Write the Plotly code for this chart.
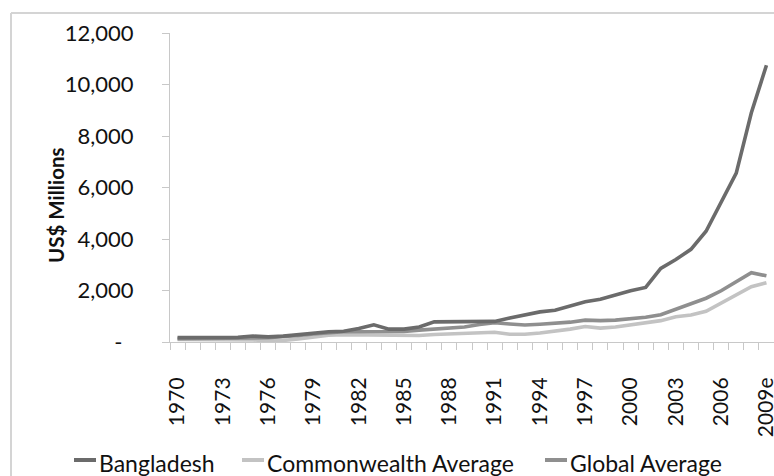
import plotly.graph_objects as go

# Years on the category axis (last year is an estimate)
years = [str(y) for y in range(1970, 2009)] + ["2009e"]
tick_labels = [y if i % 3 == 0 else "" for i, y in enumerate(years)]

# Values in US$ millions
bangladesh = [170, 170, 180, 190, 180, 230, 200, 230, 290, 340,
              400, 420, 520, 670, 500, 500, 580, 780, 790, 790,
              790, 800, 930, 1050, 1170, 1230, 1380, 1560, 1660, 1840,
              1990, 2120, 2860, 3200, 3600, 4300, 5400, 6560, 8900, 10750]
commonwealth_avg = [100, 100, 100, 100, 90, 80, 50, 60, 120, 200,
                    260, 280, 280, 280, 260, 250, 250, 290, 310, 330,
                    360, 380, 300, 300, 350, 410, 500, 600, 540, 580,
                    660, 730, 830, 980, 1050, 1190, 1500, 1830, 2150, 2300]
global_avg = [130, 130, 140, 140, 140, 160, 170, 200, 250, 310,
              370, 400, 400, 410, 400, 410, 460, 500, 530, 580,
              680, 750, 700, 660, 690, 720, 770, 850, 830, 850,
              890, 960, 1060, 1270, 1480, 1700, 1990, 2340, 2690, 2570]

y_ticks = [0, 2000, 4000, 6000, 8000, 10000, 12000]
y_tick_text = ["-\u00a0\u00a0", "2,000", "4,000", "6,000", "8,000", "10,000", "12,000"]

series = [
    ("Bangladesh", bangladesh, "#6b6b6b"),
    ("Commonwealth Average", commonwealth_avg, "#c3c3c3"),
    ("Global Average", global_avg, "#8f8f8f"),
]

W, H = 774, 476
L, R, T, B = 170, 0, 33, 134
PW, PH = W - L - R, H - T - B


def px(x):
    return (x - L) / PW


def py(y):
    return (H - B - y) / PH


fig = go.Figure()
# draw lighter series first so the darker ones sit on top
for name, vals, color in [series[1], series[2], series[0]]:
    fig.add_trace(go.Scatter(x=years, y=vals, mode="lines", name=name,
                             line=dict(color=color, width=3.6),
                             showlegend=False, cliponaxis=False))

text_color = "#111111"
fig.update_layout(
    width=W, height=H,
    margin=dict(l=L, r=R, t=T, b=B, autoexpand=False),
    paper_bgcolor="white", plot_bgcolor="white",
    xaxis=dict(type="category", tickmode="array", tickvals=years, ticktext=tick_labels,
               tickangle=-90, tickson="boundaries", ticks="outside", ticklen=7,
               tickcolor="#c8c8c8", showline=True, linecolor="#c8c8c8", linewidth=1,
               showgrid=False, zeroline=False, automargin=False,
               tickfont=dict(family="Lato, sans-serif", size=21, color=text_color),
               ticklabelstandoff=26, range=[-0.5, 39.5]),
    yaxis=dict(range=[0, 12000], tickmode="array", tickvals=y_ticks, ticktext=y_tick_text,
               ticks="outside", ticklen=7, tickcolor="#c8c8c8", showline=True,
               linecolor="#c8c8c8", linewidth=1, showgrid=False, zeroline=False,
               automargin=False,
               tickfont=dict(family="Lato, sans-serif", size=22, color=text_color),
               ticklabelstandoff=24),
)

# y-axis title
fig.add_annotation(x=px(42), y=py(205), xref="paper", yref="paper", text="<b>US$ Millions</b>",
                   textangle=-90, showarrow=False,
                   font=dict(family="Lato, sans-serif", size=20.5, color=text_color))

# chart frame
frame = "#d4d4d4"
fig.add_shape(type="line", xref="paper", yref="paper", x0=px(11), x1=px(774), y0=py(13), y1=py(13),
              line=dict(color=frame, width=2))
fig.add_shape(type="line", xref="paper", yref="paper", x0=px(11), x1=px(11), y0=py(13), y1=py(480),
              line=dict(color=frame, width=2))

# legend
legend_x = [74, 242, 545]
for (name, _, color), lx in zip(series, legend_x):
    fig.add_shape(type="line", xref="paper", yref="paper", x0=px(lx), x1=px(lx + 22),
                  y0=py(460), y1=py(460), line=dict(color=color, width=4))
    fig.add_annotation(x=px(lx + 23), y=py(463), xref="paper", yref="paper", text=name,
                       xanchor="left", yanchor="middle", showarrow=False,
                       font=dict(family="Lato, sans-serif", size=23, color=text_color))

fig.write_html("out.html")
